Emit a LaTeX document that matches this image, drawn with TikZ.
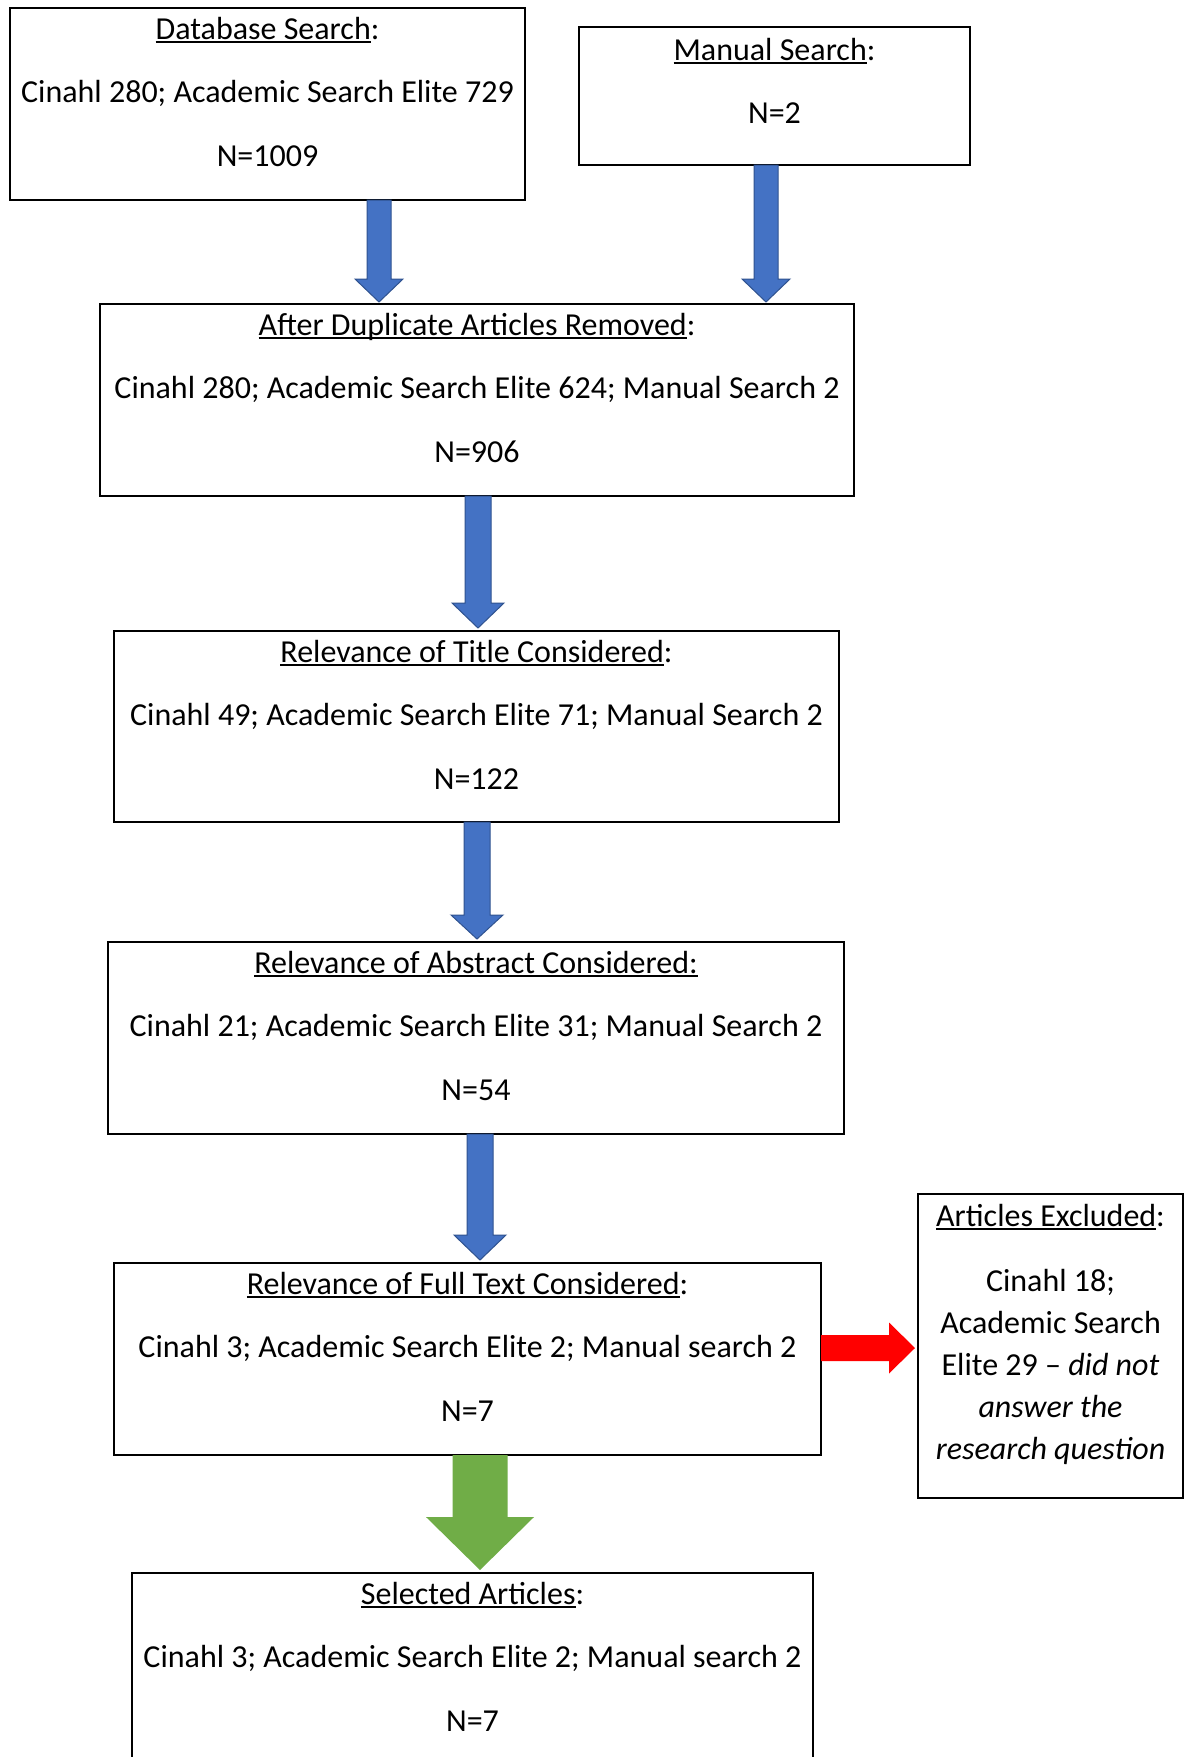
\documentclass[tikz,border=0pt]{standalone}
\usepackage{fontspec}
\setmainfont{Carlito}
\usetikzlibrary{calc}
\definecolor{bfill}{HTML}{4472C4}
\definecolor{bline}{HTML}{2F528F}
\definecolor{gfill}{HTML}{70AD47}
\definecolor{rfill}{HTML}{FF0000}
\newcommand{\ulin}[1]{\setbox0=\hbox{#1}\rlap{\rule[-2pt]{\wd0}{0.9pt}}\box0}
\newcommand{\blockdown}[6]{\path[#6] let \p1=#1, \p2=#2 in (\x1-#3,\y1) -- (\x1+#3,\y1) -- (\x1+#3,\y2+#5) -- (\x1+#4,\y2+#5) -- (\x1,\y2) -- (\x1-#4,\y2+#5) -- (\x1-#3,\y2+#5) -- cycle;}
\tikzset{
  box/.style={draw, line width=1pt, rectangle, inner sep=0pt, outer sep=0pt, anchor=north west},
  txt/.style={anchor=base, inner sep=0pt, font=\fontsize{16}{19}\selectfont},
  bluearrow/.style={fill=bfill, draw=bline, line width=0.5pt, line join=miter},
  greenarrow/.style={fill=gfill},
  redarrow/.style={fill=rfill}
}
\begin{document}
\begin{tikzpicture}[x=0.5pt, y=-0.5pt]
\useasboundingbox (0,0) rectangle (1184,1757);
\clip (0,0) rectangle (1184,1757);
\fill[white] (0,0) rectangle (1184,1757);
% boxes
\node[box, minimum width=257.5pt, minimum height=96pt] (b1) at (10,8) {};
\node[box, minimum width=195.5pt, minimum height=69pt] (bm) at (579,27) {};
\node[box, minimum width=377pt, minimum height=96pt] (b2) at (100,304) {};
\node[box, minimum width=362.5pt, minimum height=95.5pt] (b3) at (114,631) {};
\node[box, minimum width=368pt, minimum height=96pt] (b4) at (108,942) {};
\node[box, minimum width=353.5pt, minimum height=96pt] (b5) at (114,1263) {};
\node[box, minimum width=132.5pt, minimum height=152pt] (bx) at (918,1194) {};
\node[box, minimum width=340.5pt, minimum height=110pt] (bs) at (132,1573) {};
% texts
\node[txt] (b1a) at ($(b1.north)+(0,31)$) {\ulin{Database Search}:};
\node[txt] (b1b) at ($(b1.north)+(0,94.5)$) {Cinahl 280; Academic Search Elite 729};
\node[txt] (b1c) at ($(b1.north)+(0,158)$) {N=1009};
\node[txt] (bma) at ($(bm.north)+(0,33)$) {\ulin{Manual Search}:};
\node[txt] (bmb) at ($(bm.north)+(0,96)$) {N=2};
\node[txt] (b2a) at ($(b2.north)+(0,31)$) {\ulin{After Duplicate Articles Removed}:};
\node[txt] (b2b) at ($(b2.north)+(0,94.5)$) {Cinahl 280; Academic Search Elite 624; Manual Search 2};
\node[txt] (b2c) at ($(b2.north)+(0,158)$) {N=906};
\node[txt] (b3a) at ($(b3.north)+(0,31)$) {\ulin{Relevance of Title Considered}:};
\node[txt] (b3b) at ($(b3.north)+(0,94.5)$) {Cinahl 49; Academic Search Elite 71; Manual Search 2};
\node[txt] (b3c) at ($(b3.north)+(0,158)$) {N=122};
\node[txt] (b4a) at ($(b4.north)+(0,31)$) {\ulin{Relevance of Abstract Considered:}};
\node[txt] (b4b) at ($(b4.north)+(0,94.5)$) {Cinahl 21; Academic Search Elite 31; Manual Search 2};
\node[txt] (b4c) at ($(b4.north)+(0,158)$) {N=54};
\node[txt] (b5a) at ($(b5.north)+(0,31)$) {\ulin{Relevance of Full Text Considered}:};
\node[txt] (b5b) at ($(b5.north)+(0,94.5)$) {Cinahl 3; Academic Search Elite 2; Manual search 2};
\node[txt] (b5c) at ($(b5.north)+(0,158)$) {N=7};
\node[txt] (bxa) at ($(bx.north)+(0,32)$) {\ulin{Articles Excluded}:};
\node[txt] (bxb) at ($(bx.north)+(0,97)$) {Cinahl 18;};
\node[txt] (bxc) at ($(bx.north)+(0,139)$) {Academic Search};
\node[txt] (bxd) at ($(bx.north)+(0,181)$) {Elite 29 – \textit{did not}};
\node[txt] (bxe) at ($(bx.north)+(0,223)$) {\textit{answer the}};
\node[txt] (bxf) at ($(bx.north)+(0,265)$) {\textit{research question}};
\node[txt] (bsa) at ($(bs.north)+(0,31)$) {\ulin{Selected Articles}:};
\node[txt] (bsb) at ($(bs.north)+(0,94)$) {Cinahl 3; Academic Search Elite 2; Manual search 2};
\node[txt] (bsc) at ($(bs.north)+(0,158)$) {N=7};
% block arrows
\blockdown{($(b1.south west)+(369,0)$)}{($(b2.north west)+(279,-2)$)}{6pt}{12pt}{11.5pt}{bluearrow}
\blockdown{($(bm.south west)+(187,0)$)}{($(b2.north west)+(666,-2)$)}{6pt}{12pt}{11.5pt}{bluearrow}
\blockdown{($(b2.south west)+(378,0)$)}{($(b3.north west)+(364,-3)$)}{6.5pt}{13pt}{12.5pt}{bluearrow}
\blockdown{($(b3.south west)+(363,0)$)}{($(b4.north west)+(369,-3)$)}{6.5pt}{13pt}{12pt}{bluearrow}
\blockdown{($(b4.south west)+(372,0)$)}{($(b5.north west)+(366,-3)$)}{6.5pt}{13pt}{12.5pt}{bluearrow}
\blockdown{($(b5.south west)+(366,0)$)}{($(bs.north west)+(348,-3)$)}{13.75pt}{27pt}{26.5pt}{greenarrow}
\path[redarrow] let \p1=(b5.east), \p2=($(bx.west)+(-3,2)$) in
  (\x1,\y2+6.5pt) -- (\x2-13pt,\y2+6.5pt) -- (\x2-13pt,\y2+12.75pt) -- (\x2,\y2)
  -- (\x2-13pt,\y2-12.75pt) -- (\x2-13pt,\y2-6.5pt) -- (\x1,\y2-6.5pt) -- cycle;
\end{tikzpicture}
\end{document}
